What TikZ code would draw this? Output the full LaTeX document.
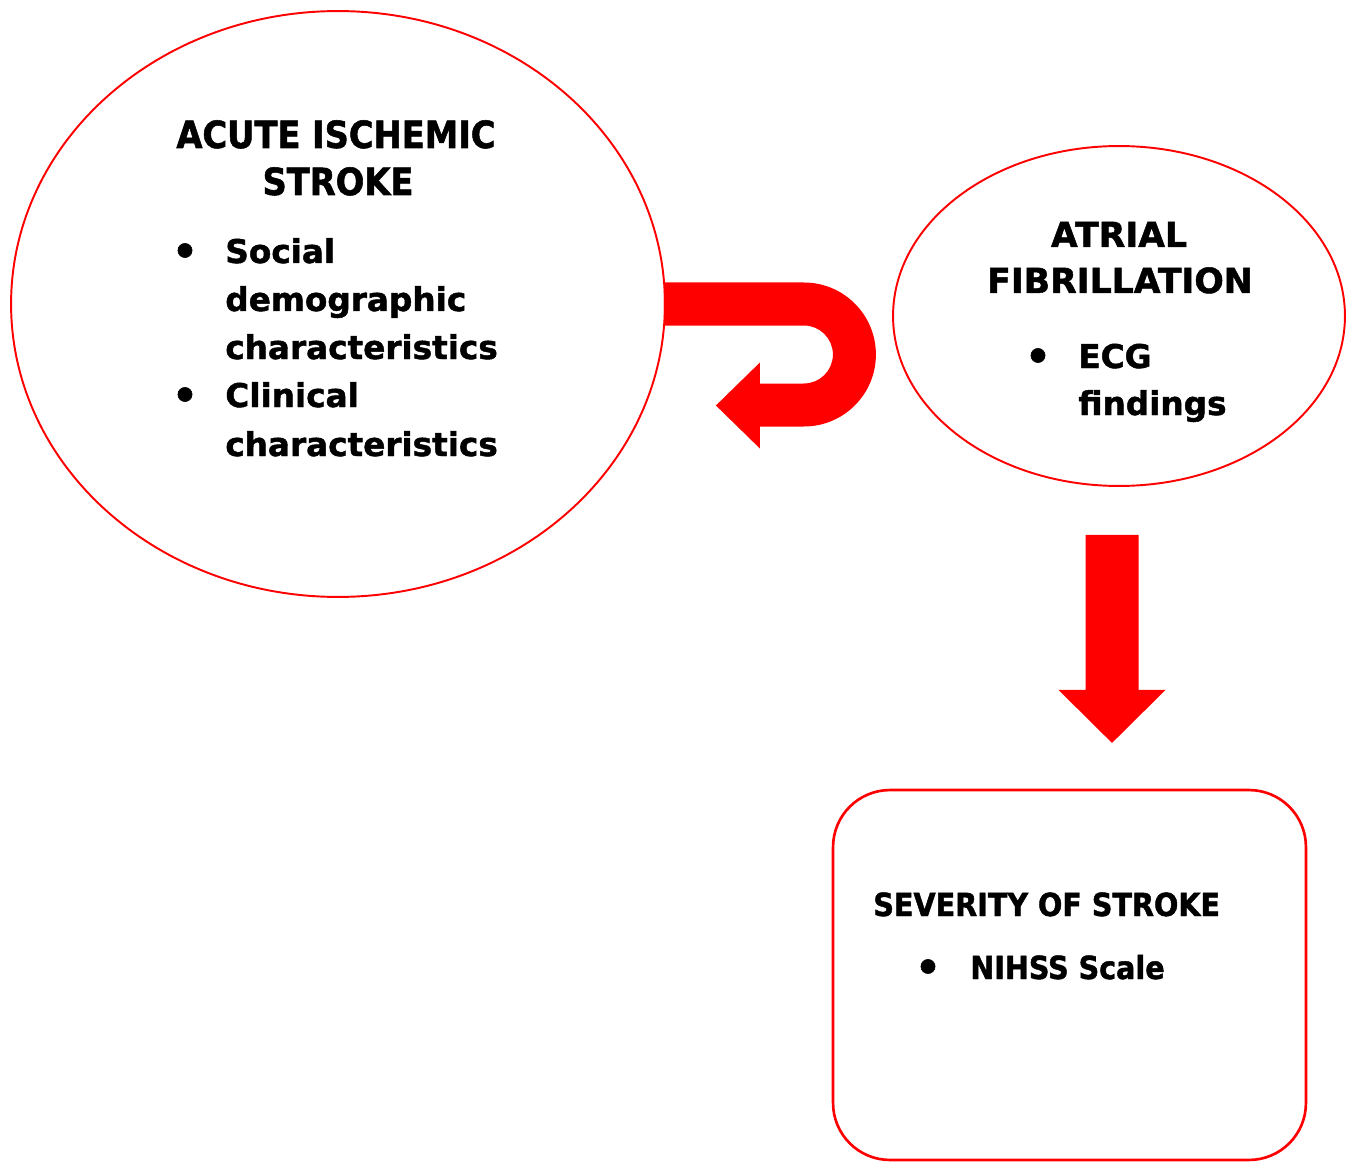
\documentclass[tikz,border=0pt]{standalone}
\usepackage{fontspec}
\setmainfont{DejaVu Sans}[BoldFeatures={FakeBold=1.4}]
\newfontfamily\condfont{DejaVu Sans Condensed}[BoldFeatures={FakeBold=1.4}]
\usepackage{tikz}
\usetikzlibrary{shapes.geometric, calc}
\definecolor{colorRojo}{HTML}{FF0000}

\begin{document}
\begin{tikzpicture}[x=0.02cm, y=0.02cm,
        oval/.style={ellipse, draw=colorRojo, line width=1.1pt, inner sep=0pt},
        caja/.style={draw=colorRojo, line width=1.5pt, rounded corners=1.14cm, inner sep=0pt},
        ttl/.style={inner sep=0pt, font=\condfont\bfseries\fontsize{21.3}{25}\selectfont},
        ttlb/.style={inner sep=0pt, font=\bfseries\fontsize{19.7}{23}\selectfont},
        ttlc/.style={inner sep=0pt, font=\condfont\bfseries\fontsize{18.1}{22}\selectfont},
        itm/.style={inner sep=0pt, anchor=base west, font=\bfseries\fontsize{18.6}{22}\selectfont},
        itmc/.style={inner sep=0pt, anchor=base west, font=\condfont\bfseries\fontsize{18.1}{22}\selectfont},
        bul/.style={inner sep=0pt, anchor=base, yshift=-0.05cm, font=\bfseries\fontsize{23}{26}\selectfont},
        blk/.style={fill=colorRojo, draw=none}
    ]
        \useasboundingbox (0,0) rectangle (1349,-1162);
        % shapes
        \node[oval, minimum width=13.08cm, minimum height=11.72cm] (stroke) at (338,-304) {};
        \node[oval, minimum width=9.04cm, minimum height=6.8cm] (af) at (1119,-316) {};
        \node[caja, minimum width=9.46cm, minimum height=7.4cm] (sev) at (1069.5,-975) {};
        % texts
        \node[ttl, anchor=base] (s1) at (336,-148) {ACUTE ISCHEMIC};
        \node[ttl, anchor=base] (s2) at (338,-195) {STROKE};
        \node[bul] (sb1) at (185,-263) {•};
        \node[itm] (si1) at (225,-263) {Social};
        \node[itm] (si2) at (225,-311) {demographic};
        \node[itm] (si3) at (225,-359) {characteristics};
        \node[bul] (sb2) at (185,-407) {•};
        \node[itm] (si4) at (225,-407) {Clinical};
        \node[itm] (si5) at (225,-456) {characteristics};
        \node[ttlb, anchor=base] (a1) at (1119,-247) {ATRIAL};
        \node[ttlb, anchor=base] (a2) at (1120,-293) {FIBRILLATION};
        \node[bul] (ab1) at (1038,-368) {•};
        \node[itm] (ai1) at (1078,-368) {ECG};
        \node[itm] (ai2) at (1078,-415) {findings};
        \node[ttlc, anchor=base west] (v1) at (873,-916) {SEVERITY OF STROKE};
        \node[bul] (vb1) at (928,-979) {•};
        \node[itmc] (vi1) at (970,-979) {NIHSS Scale};
        % block arrows
        \fill[blk] ($(stroke.east)+(-2,21.5)$) -- ++(140,0) arc[start angle=90, end angle=-90, radius=72]
            -- ++(-44,0) -- ++(0,-22) -- ++(-44,43) -- ++(44,43) -- ++(0,-21) -- ++(44,0)
            arc[start angle=-90, end angle=90, radius=29] -- ++(-140,0) -- cycle;
        \fill[blk] ($(af.south)+(-33.5,-48)$) -- ++(53,0) -- ++(0,-155) -- ++(27,0)
            -- ++(-53.5,-53) -- ++(-53.5,53) -- ++(27,0) -- cycle;
    \end{tikzpicture}
\end{document}
